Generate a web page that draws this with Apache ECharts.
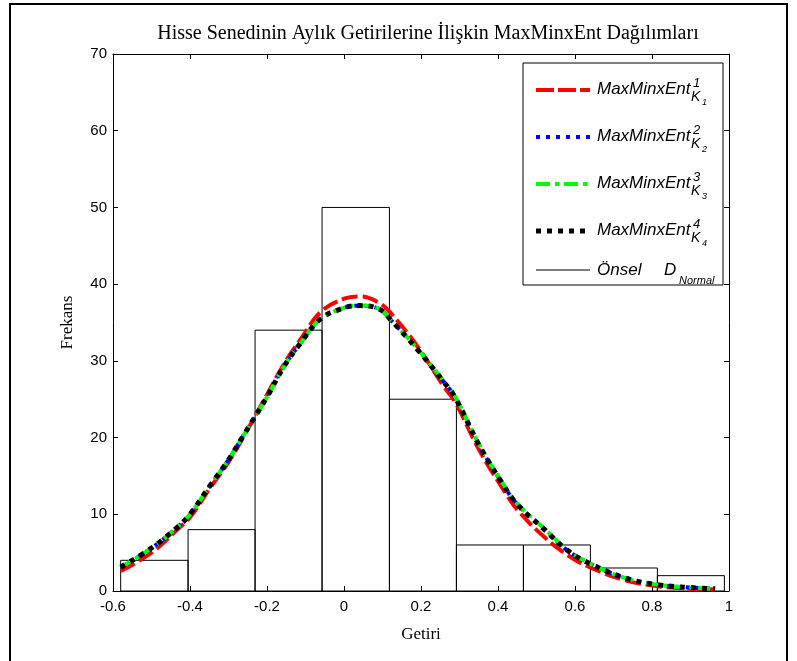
<!DOCTYPE html>
<html>
<head>
<meta charset="utf-8">
<script src="https://cdn.jsdelivr.net/npm/echarts@6/dist/echarts.min.js"></script>
<style>html,body{margin:0;padding:0;background:#fff}#c{width:797px;height:661px}</style>
</head>
<body>
<div id="c"></div>
<script>
// Histogram bin edges and counts
var binEdges = [-0.58, -0.405, -0.231, -0.057, 0.118, 0.292, 0.466, 0.640, 0.814, 0.988];
var binCounts = [4, 8, 34, 50, 25, 6, 6, 3, 2];

// Curve sample x positions
var curveX = [-0.58, -0.5, -0.433, -0.4, -0.347, -0.3, -0.261, -0.2, -0.157, -0.113, -0.06, 0.0, 0.04, 0.09, 0.122, 0.192, 0.26, 0.289, 0.351, 0.409, 0.45, 0.521, 0.58, 0.638, 0.73, 0.818, 0.9, 0.964];
var curve1 = [2.6, 5.0, 8.0, 9.6, 13.5, 16.8, 20.1, 25.6, 29.5, 32.8, 36.4, 38.1, 38.4, 37.6, 36.2, 31.8, 26.6, 24.6, 18.4, 13.6, 10.6, 7.0, 4.7, 3.1, 1.4, 0.6, 0.3, 0.2];
var curve2 = [3.1, 5.6, 8.3, 10.0, 13.8, 17.1, 20.3, 25.3, 29.2, 32.3, 35.5, 36.9, 37.2, 36.8, 35.3, 31.4, 27.2, 25.2, 19.0, 14.2, 11.3, 8.0, 5.3, 3.6, 1.7, 0.8, 0.45, 0.3];
var curve3 = [3.1, 5.6, 8.3, 10.0, 13.8, 17.1, 20.3, 25.3, 29.2, 32.3, 35.5, 36.9, 37.2, 36.8, 35.3, 31.5, 27.3, 25.3, 19.1, 14.3, 11.4, 8.1, 5.4, 3.6, 1.7, 0.8, 0.45, 0.3];
var curve4 = [3.1, 5.6, 8.3, 10.0, 13.8, 17.1, 20.3, 25.3, 29.2, 32.3, 35.5, 36.9, 37.2, 36.8, 35.3, 31.4, 27.2, 25.2, 19.0, 14.2, 11.3, 8.0, 5.3, 3.6, 1.7, 0.8, 0.45, 0.3];

var xTicks = {min: -0.6, max: 1, interval: 0.2};
var yTicks = {min: 0, max: 70, interval: 10};

var titleText = 'Hisse Senedinin Aylık Getirilerine İlişkin MaxMinxEnt Dağılımları';
var xName = 'Getiri';
var yName = 'Frekans';
var legendMain = ['MaxMinxEnt', 'MaxMinxEnt', 'MaxMinxEnt', 'MaxMinxEnt'];
var legendSup = ['1', '2', '3', '4'];
var legendSub = ['1', '2', '3', '4'];

function pairs(xs, ys) { return xs.map(function (x, i) { return [x, ys[i]]; }); }
var histData = binCounts.map(function (c, i) { return [binEdges[i], binEdges[i + 1], c]; });

var chart = echarts.init(document.getElementById('c'), null, {renderer: 'canvas'});

var serif = 'Liberation Serif';
var sans = 'Liberation Sans';

function axisCommon() {
  return {
    axisLine: {show: true, onZero: false, lineStyle: {color: '#000', width: 1}},
    axisTick: {show: true, inside: true, length: 5, lineStyle: {color: '#000'}},
    splitLine: {show: false}
  };
}

var xAxisBottom = Object.assign(axisCommon(), {
  type: 'value', min: xTicks.min, max: xTicks.max, interval: xTicks.interval, position: 'bottom',
  name: xName, nameLocation: 'middle', nameGap: 35,
  nameTextStyle: {fontFamily: serif, fontSize: 17, color: '#000'},
  axisLabel: {show: true, margin: 8, fontFamily: sans, fontSize: 15, color: '#000',
    formatter: function (v) { return String(+v.toFixed(1)); }}
});
var xAxisTop = Object.assign(axisCommon(), {
  type: 'value', min: xTicks.min, max: xTicks.max, interval: xTicks.interval, position: 'top',
  axisLabel: {show: false}
});
var yAxisLeft = Object.assign(axisCommon(), {
  type: 'value', min: yTicks.min, max: yTicks.max, interval: yTicks.interval, position: 'left',
  name: yName, nameLocation: 'middle', nameGap: 37,
  nameTextStyle: {fontFamily: serif, fontSize: 17, color: '#000'},
  axisLabel: {show: true, margin: 6, fontFamily: sans, fontSize: 15, color: '#000'}
});
var yAxisRight = Object.assign(axisCommon(), {
  type: 'value', min: yTicks.min, max: yTicks.max, interval: yTicks.interval, position: 'right',
  axisLabel: {show: false}
});

function lineSeries(name, data, color, width, dash) {
  return {
    name: name, type: 'line', data: data, smooth: 0.4, showSymbol: false, symbol: 'none',
    xAxisIndex: 0, yAxisIndex: 0, z: 5,
    lineStyle: {color: color, width: width, type: dash, cap: 'butt', join: 'round'},
    animation: false
  };
}

// Legend drawn with graphic elements
var lgX = 523, lgY = 63, lgW = 200, lgH = 222;
var rowY = [89, 136, 183, 230];
var lineStyles = [
  {stroke: '#ff0000', lineWidth: 4, lineDash: [18, 4]},
  {stroke: '#0000ff', lineWidth: 4, lineDash: [4, 6]},
  {stroke: '#00ff00', lineWidth: 4, lineDash: [14, 5, 4, 5]},
  {stroke: '#000000', lineWidth: 5, lineDash: [5, 6]}
];
var legendEls = [{
  type: 'rect', shape: {x: lgX, y: lgY, width: lgW, height: lgH},
  style: {fill: '#fff', stroke: '#000', lineWidth: 1}, z: 100
}];
rowY.forEach(function (y, i) {
  legendEls.push({type: 'line', shape: {x1: 536, y1: y + 1, x2: 590, y2: y + 1}, style: lineStyles[i], z: 101});
  legendEls.push({type: 'text', x: 597, y: y + 9, style: {text: legendMain[i], font: 'italic 17px ' + sans, fill: '#000', textVerticalAlign: 'bottom'}, z: 101});
  legendEls.push({type: 'text', x: 693, y: y + 1, style: {text: legendSup[i], font: 'italic 13px ' + sans, fill: '#000', textVerticalAlign: 'bottom'}, z: 101});
  legendEls.push({type: 'text', x: 691, y: y + 15, style: {text: 'K', font: 'italic 14px ' + sans, fill: '#000', textVerticalAlign: 'bottom'}, z: 101});
  legendEls.push({type: 'text', x: 702, y: y + 18, style: {text: legendSub[i], font: 'italic 9px ' + sans, fill: '#000', textVerticalAlign: 'bottom'}, z: 101});
});
legendEls.push({type: 'line', shape: {x1: 536, y1: 270, x2: 590, y2: 270}, style: {stroke: '#000', lineWidth: 1.2}, z: 101});
legendEls.push({type: 'text', x: 597, y: 279, style: {text: 'Önsel', font: 'italic 17px ' + sans, fill: '#000', textVerticalAlign: 'bottom'}, z: 101});
legendEls.push({type: 'text', x: 664, y: 279, style: {text: 'D', font: 'italic 17px ' + sans, fill: '#000', textVerticalAlign: 'bottom'}, z: 101});
legendEls.push({type: 'text', x: 679, y: 286, style: {text: 'Normal', font: 'italic 11px ' + sans, fill: '#000', textVerticalAlign: 'bottom'}, z: 101});

var option = {
  backgroundColor: '#fff',
  animation: false,
  title: {
    text: titleText, left: 423, top: 19, textAlign: 'center',
    textStyle: {fontFamily: serif, fontSize: 20, fontWeight: 'normal', color: '#000'}
  },
  grid: {left: 113, right: 68, top: 54, bottom: 70, containLabel: false},
  xAxis: [xAxisBottom, xAxisTop],
  yAxis: [yAxisLeft, yAxisRight],
  graphic: [{
    type: 'rect', shape: {x: 10, y: 4, width: 777, height: 700},
    style: {fill: 'none', stroke: '#000', lineWidth: 2}, z: -1, silent: true
  }].concat(legendEls),
  series: [
    {
      name: 'hist', type: 'custom', xAxisIndex: 0, yAxisIndex: 0, z: 2,
      data: histData,
      encode: {x: [0, 1], y: 2},
      renderItem: function (params, api) {
        var p0 = api.coord([api.value(0), api.value(2)]);
        var p1 = api.coord([api.value(1), 0]);
        return {
          type: 'rect',
          shape: {x: p0[0], y: p0[1], width: p1[0] - p0[0], height: p1[1] - p0[1]},
          style: {fill: 'none', stroke: '#000', lineWidth: 1}
        };
      }
    },
    lineSeries('MaxMinxEnt1', pairs(curveX, curve1), '#ff0000', 4, [16, 5]),
    lineSeries('MaxMinxEnt2', pairs(curveX, curve2), '#0000ff', 4, [4, 6]),
    lineSeries('MaxMinxEnt3', pairs(curveX, curve3), '#00ff00', 4, [12, 5, 4, 5]),
    lineSeries('MaxMinxEnt4', pairs(curveX, curve4), '#000000', 5, [5, 6])
  ]
};
chart.setOption(option);
</script>
</body>
</html>
